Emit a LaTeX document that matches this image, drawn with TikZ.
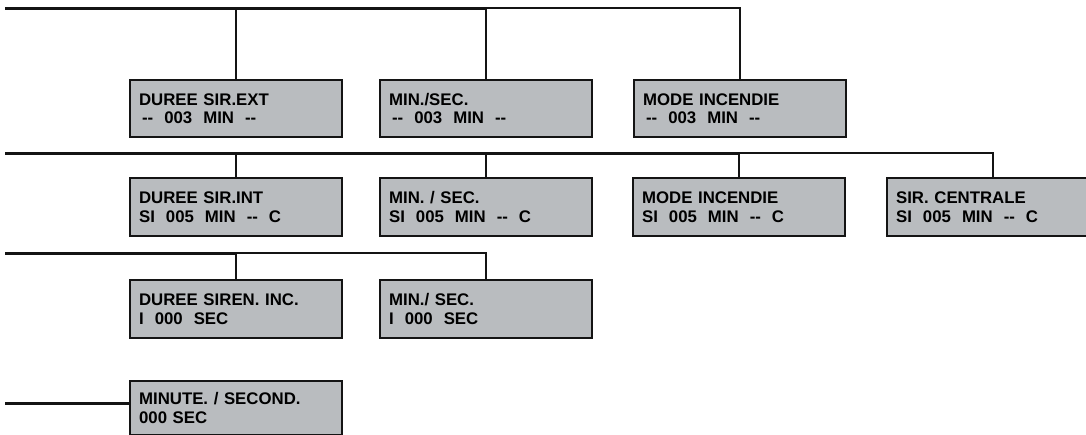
\documentclass[tikz,border=0pt]{standalone}
\usepackage{fontspec}
\newfontfamily\lcdfont{Liberation Sans}[Ligatures=NoCommon]
\definecolor{lcdgrey}{RGB}{185,188,191}
\definecolor{inkc}{RGB}{20,20,20}
\newcommand{\gp}{\hspace{11pt}}
\tikzset{
  lcd/.style={draw=inkc, line width=2.2pt, fill=lcdgrey, rectangle, anchor=north west,
    minimum width=212pt, text width=194pt, inner xsep=9pt, inner ysep=0pt, align=left,
    font=\lcdfont\bfseries\fontsize{16.8}{18.6}\selectfont},
  bus/.style={draw=inkc, line width=3pt},
  thinbus/.style={draw=inkc, line width=2pt},
  branch/.style={draw=inkc, line width=2.2pt}
}
\begin{document}
\begin{tikzpicture}[x=1pt,y=-1pt]
\clip (0,0) rectangle (1086,434);
\fill[white] (0,0) rectangle (1086,434);
% row 1
\node[lcd, minimum height=57pt] (a1) at (129,79) {DUREE SIR.EXT\\\hspace{3pt}-{}-\gp003\gp MIN\gp-{}-};
\node[lcd, minimum height=57pt] (a2) at (379,79) {MIN./SEC.\\\hspace{3pt}-{}-\gp003\gp MIN\gp-{}-};
\node[lcd, minimum height=57pt] (a3) at (633,79) {MODE INCENDIE\\\hspace{3pt}-{}-\gp003\gp MIN\gp-{}-};
% row 2
\node[lcd, minimum height=58pt] (b1) at (129,177) {DUREE SIR.INT\\SI\gp005\gp MIN\gp-{}-\gp C};
\node[lcd, minimum height=58pt] (b2) at (379,177) {MIN. / SEC.\\SI\gp005\gp MIN\gp-{}-\gp C};
\node[lcd, minimum height=58pt] (b3) at (632,177) {MODE INCENDIE\\SI\gp005\gp MIN\gp-{}-\gp C};
\node[lcd, minimum height=58pt] (b4) at (886,177) {SIR. CENTRALE\\SI\gp005\gp MIN\gp-{}-\gp C};
% row 3
\node[lcd, minimum height=58pt] (c1) at (129,279) {DUREE SIREN. INC.\\I\gp000\gp SEC};
\node[lcd, minimum height=58pt] (c2) at (379,279) {MIN./ SEC.\\I\gp000\gp SEC};
% row 4
\node[lcd, minimum height=54pt] (d1) at (129,380) {MINUTE. / SECOND.\\000 SEC};
% bus start coordinates
\coordinate (r1) at (5,8);
\coordinate (r2) at (5,153);
\coordinate (r3) at (5,253);
\coordinate (r4) at (5,403);
% row 1 connectors
\draw[bus] (r1) -- (a2.north |- r1);
\draw[branch] (a1.north |- r1) -- (a1.north);
\draw[branch] (a2.north |- r1) -- (a2.north);
\draw[thinbus] (a2.north |- r1) -| (a3.north);
% row 2 connectors
\draw[bus] (r2) -- (b3.north |- r2);
\draw[branch] (b1.north |- r2) -- (b1.north);
\draw[branch] (b2.north |- r2) -- (b2.north);
\draw[branch] (b3.north |- r2) -- (b3.north);
\draw[thinbus] (b3.north |- r2) -| (b4.north);
% row 3 connectors
\draw[bus] (r3) -- (c1.north |- r3);
\draw[branch] (c1.north |- r3) -- (c1.north);
\draw[thinbus] (c1.north |- r3) -| (c2.north);
% row 4 connector
\draw[bus] (r4) -- (d1.west |- r4);
\end{tikzpicture}
\end{document}
